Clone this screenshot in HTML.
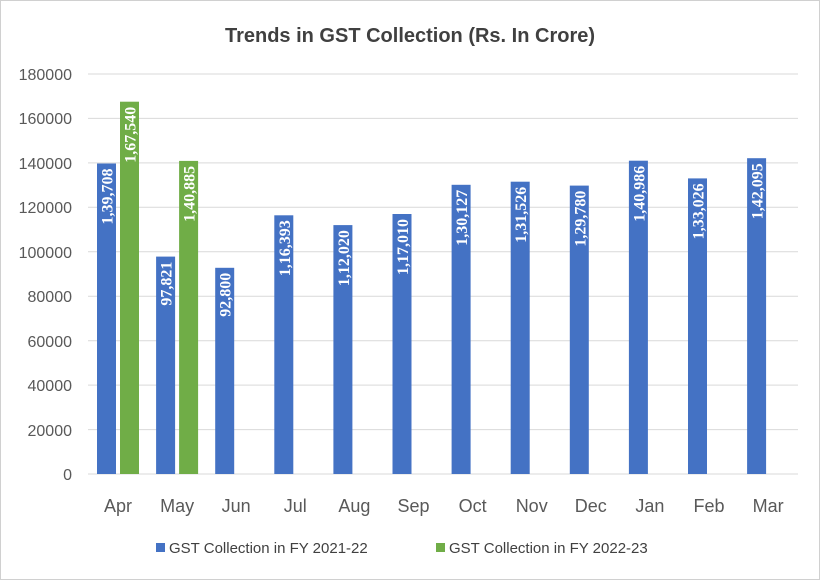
<!DOCTYPE html>
<html><head><style>body{margin:0;background:#fff}svg{display:block}</style></head><body>
<svg width="820" height="580" xmlns="http://www.w3.org/2000/svg" font-family="Liberation Sans, sans-serif">
<rect x="0.5" y="0.5" width="819" height="579" fill="#fff" stroke="#d0d0d0"/>
<text x="410" y="42" text-anchor="middle" font-size="20" font-weight="bold" fill="#404040">Trends in GST Collection (Rs. In Crore)</text>
<g stroke="#d9d9d9" stroke-width="1">
<line x1="88" x2="798" y1="74" y2="74"/><line x1="88" x2="798" y1="118.4" y2="118.4"/><line x1="88" x2="798" y1="162.9" y2="162.9"/><line x1="88" x2="798" y1="207.3" y2="207.3"/><line x1="88" x2="798" y1="251.8" y2="251.8"/><line x1="88" x2="798" y1="296.2" y2="296.2"/><line x1="88" x2="798" y1="340.7" y2="340.7"/><line x1="88" x2="798" y1="385.1" y2="385.1"/><line x1="88" x2="798" y1="429.6" y2="429.6"/><line x1="88" x2="798" y1="474" y2="474"/>
</g>
<g font-size="16" fill="#595959" text-anchor="end">
<text x="72" y="80">180000</text><text x="72" y="124">160000</text><text x="72" y="169">140000</text><text x="72" y="213">120000</text><text x="72" y="258">100000</text><text x="72" y="302">80000</text><text x="72" y="347">60000</text><text x="72" y="391">40000</text><text x="72" y="436">20000</text><text x="72" y="480">0</text>
</g>
<g fill="#4472c4">
<rect x="97" y="163.5" width="19" height="310.5"/>
<rect x="156.1" y="256.6" width="19" height="217.4"/>
<rect x="215.2" y="267.8" width="19" height="206.2"/>
<rect x="274.3" y="215.3" width="19" height="258.7"/>
<rect x="333.4" y="225.1" width="19" height="248.9"/>
<rect x="392.5" y="214" width="19" height="260"/>
<rect x="451.6" y="184.8" width="19" height="289.2"/>
<rect x="510.7" y="181.7" width="19" height="292.3"/>
<rect x="569.8" y="185.6" width="19" height="288.4"/>
<rect x="628.9" y="160.7" width="19" height="313.3"/>
<rect x="688" y="178.4" width="19" height="295.6"/>
<rect x="747.1" y="158.2" width="19" height="315.8"/>
</g>
<g fill="#70ad47">
<rect x="120" y="101.7" width="19" height="372.3"/>
<rect x="179.1" y="160.9" width="19" height="313.1"/>
</g>
<g font-family="Liberation Serif, serif" font-weight="bold" font-size="16" fill="#fff" text-anchor="end">
<text transform="translate(112.5,168.5) rotate(-90)">1,39,708</text>
<text transform="translate(171.6,261.6) rotate(-90)">97,821</text>
<text transform="translate(230.7,272.8) rotate(-90)">92,800</text>
<text transform="translate(289.8,220.3) rotate(-90)">1,16,393</text>
<text transform="translate(348.9,230.1) rotate(-90)">1,12,020</text>
<text transform="translate(408,219) rotate(-90)">1,17,010</text>
<text transform="translate(467.1,189.8) rotate(-90)">1,30,127</text>
<text transform="translate(526.2,186.7) rotate(-90)">1,31,526</text>
<text transform="translate(585.3,190.6) rotate(-90)">1,29,780</text>
<text transform="translate(644.4,165.7) rotate(-90)">1,40,986</text>
<text transform="translate(703.5,183.4) rotate(-90)">1,33,026</text>
<text transform="translate(762.6,163.2) rotate(-90)">1,42,095</text>
<text transform="translate(135.5,106.7) rotate(-90)">1,67,540</text>
<text transform="translate(194.6,165.9) rotate(-90)">1,40,885</text>
</g>
<g font-size="18" fill="#595959" text-anchor="middle">
<text x="118" y="512">Apr</text><text x="177.1" y="512">May</text><text x="236.2" y="512">Jun</text><text x="295.3" y="512">Jul</text><text x="354.4" y="512">Aug</text><text x="413.5" y="512">Sep</text><text x="472.6" y="512">Oct</text><text x="531.7" y="512">Nov</text><text x="590.8" y="512">Dec</text><text x="649.9" y="512">Jan</text><text x="709" y="512">Feb</text><text x="768.1" y="512">Mar</text>
</g>
<rect x="156" y="543" width="9" height="9" fill="#4472c4"/>
<text x="169" y="553" font-size="15" fill="#404040">GST Collection in FY 2021-22</text>
<rect x="436" y="543" width="9" height="9" fill="#70ad47"/>
<text x="449" y="553" font-size="15" fill="#404040">GST Collection in FY 2022-23</text>
</svg>
</body></html>
